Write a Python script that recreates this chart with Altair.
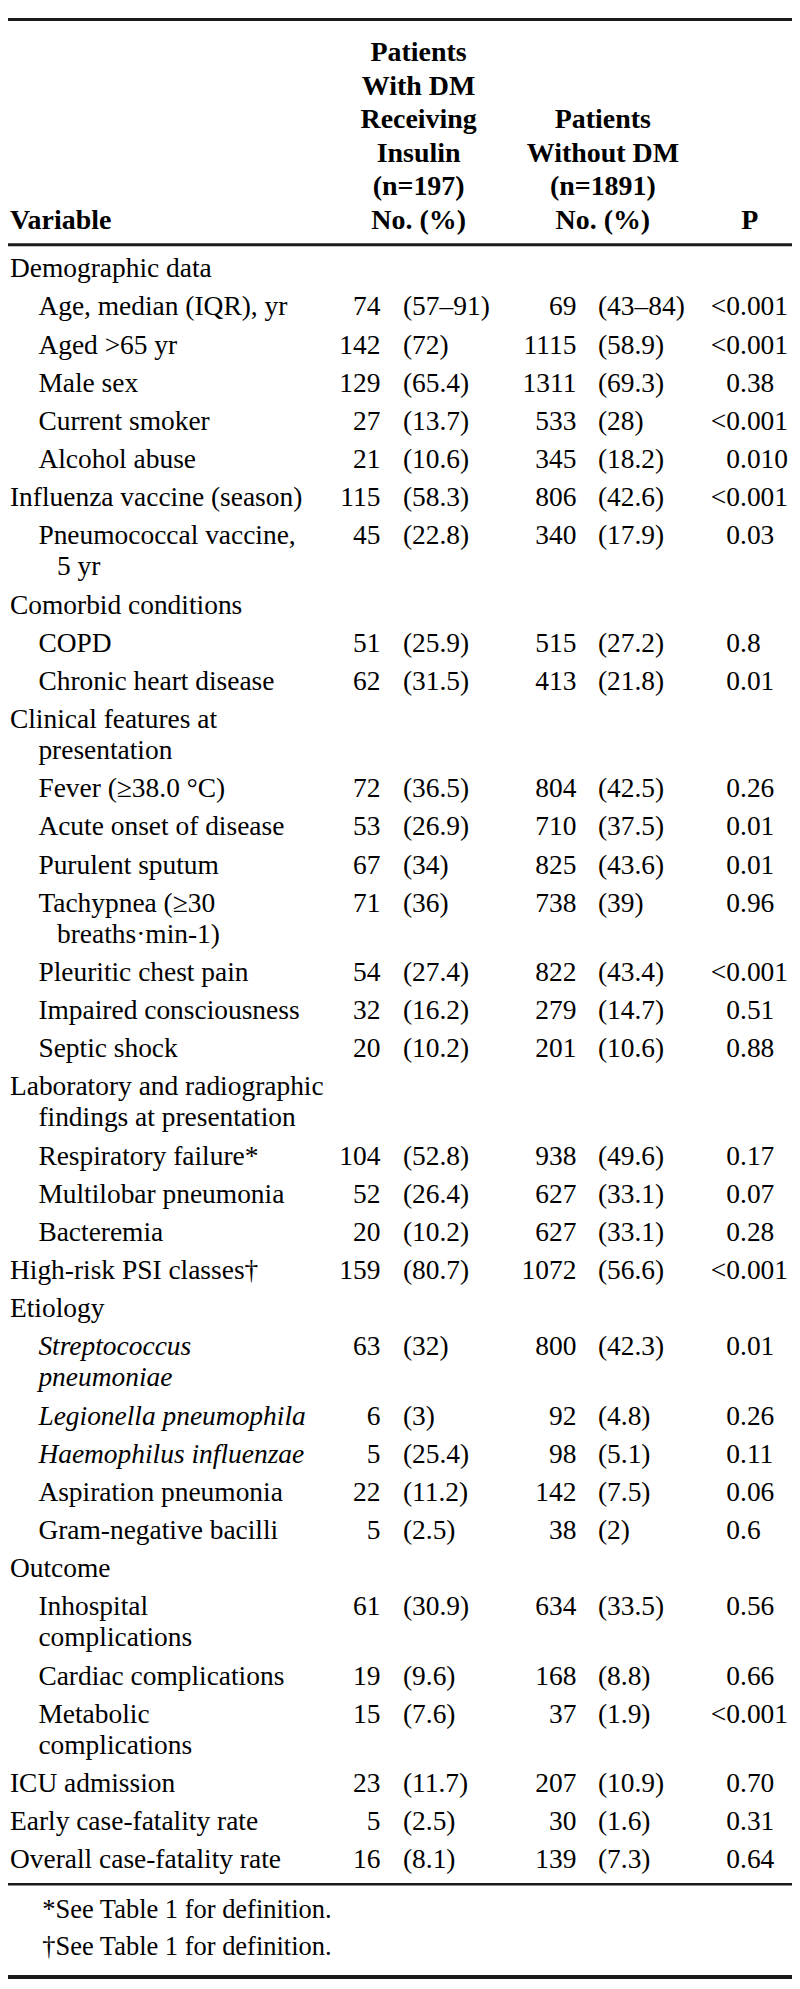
import altair as alt
import pandas as pd

# ---------------- data ----------------
col_headers_1 = ["Patients", "With DM", "Receiving", "Insulin", "(n=197)", "No. (%)"]
col_headers_2 = ["Patients", "Without DM", "(n=1891)", "No. (%)"]
first_header = "Variable"
p_header = "P"

labels = [
    "Demographic data",
    "Age, median (IQR), yr",
    "Aged >65 yr",
    "Male sex",
    "Current smoker",
    "Alcohol abuse",
    "Influenza vaccine (season)",
    "Pneumococcal vaccine,|5 yr",
    "Comorbid conditions",
    "COPD",
    "Chronic heart disease",
    "Clinical features at|presentation",
    "Fever (≥38.0 °C)",
    "Acute onset of disease",
    "Purulent sputum",
    "Tachypnea (≥30|breaths·min-1)",
    "Pleuritic chest pain",
    "Impaired consciousness",
    "Septic shock",
    "Laboratory and radiographic|findings at presentation",
    "Respiratory failure*",
    "Multilobar pneumonia",
    "Bacteremia",
    "High-risk PSI classes†",
    "Etiology",
    "Streptococcus|pneumoniae",
    "Legionella pneumophila",
    "Haemophilus influenzae",
    "Aspiration pneumonia",
    "Gram-negative bacilli",
    "Outcome",
    "Inhospital|complications",
    "Cardiac complications",
    "Metabolic|complications",
    "ICU admission",
    "Early case-fatality rate",
    "Overall case-fatality rate",
]
# indent level of first line, indent level of wrapped line
levels = [0, 1, 1, 1, 1, 1, 0, 1, 0, 1, 1, 0, 1, 1, 1, 1, 1, 1, 1, 0,
          1, 1, 1, 0, 0, 1, 1, 1, 1, 1, 0, 1, 1, 1, 0, 0, 0]
wrap_levels = [0, 0, 0, 0, 0, 0, 0, 2, 0, 0, 0, 1, 0, 0, 0, 2, 0, 0, 0, 1,
               0, 0, 0, 0, 0, 1, 0, 0, 0, 0, 0, 1, 0, 1, 0, 0, 0]
italic = [False] * 25 + [True, True, True] + [False] * 9

n_dm = ["", "74", "142", "129", "27", "21", "115", "45", "", "51", "62", "",
        "72", "53", "67", "71", "54", "32", "20", "", "104", "52", "20", "159",
        "", "63", "6", "5", "22", "5", "", "61", "19", "15", "23", "5", "16"]
pct_dm = ["", "(57–91)", "(72)", "(65.4)", "(13.7)", "(10.6)", "(58.3)", "(22.8)",
          "", "(25.9)", "(31.5)", "", "(36.5)", "(26.9)", "(34)", "(36)", "(27.4)",
          "(16.2)", "(10.2)", "", "(52.8)", "(26.4)", "(10.2)", "(80.7)", "",
          "(32)", "(3)", "(25.4)", "(11.2)", "(2.5)", "", "(30.9)", "(9.6)",
          "(7.6)", "(11.7)", "(2.5)", "(8.1)"]
n_nodm = ["", "69", "1115", "1311", "533", "345", "806", "340", "", "515", "413",
          "", "804", "710", "825", "738", "822", "279", "201", "", "938", "627",
          "627", "1072", "", "800", "92", "98", "142", "38", "", "634", "168",
          "37", "207", "30", "139"]
pct_nodm = ["", "(43–84)", "(58.9)", "(69.3)", "(28)", "(18.2)", "(42.6)",
            "(17.9)", "", "(27.2)", "(21.8)", "", "(42.5)", "(37.5)", "(43.6)",
            "(39)", "(43.4)", "(14.7)", "(10.6)", "", "(49.6)", "(33.1)",
            "(33.1)", "(56.6)", "", "(42.3)", "(4.8)", "(5.1)", "(7.5)", "(2)",
            "", "(33.5)", "(8.8)", "(1.9)", "(10.9)", "(1.6)", "(7.3)"]
p_values = ["", "<0.001", "<0.001", "0.38", "<0.001", "0.010", "<0.001", "0.03",
            "", "0.8", "0.01", "", "0.26", "0.01", "0.01", "0.96", "<0.001",
            "0.51", "0.88", "", "0.17", "0.07", "0.28", "<0.001", "", "0.01",
            "0.26", "0.11", "0.06", "0.6", "", "0.56", "0.66", "<0.001", "0.70",
            "0.31", "0.64"]
footnotes = ["*See Table 1 for definition.", "†See Table 1 for definition."]

# ---------------- layout (reference pixel frame 800 x 1989) ----------------
W_REF, H_REF = 800, 1989
INDENT = {0: 2, 1: 31, 2: 50}
X_N1, X_P1, X_N2, X_P2, X_P = 380, 403, 580, 602, 733
X_H1, X_H2, X_HP = 419, 607, 757
FIRST, ROW, WRAP = 263, 38.7, 31.5
HEAD_BASE, HEAD_STEP = 214, 34
FOOT = [1927, 1965]

items = []
y = FIRST
for i, lab in enumerate(labels):
    parts = lab.split("|")
    kind = "lab_it" if italic[i] else "left"
    for j, part in enumerate(parts):
        xi = INDENT[levels[i]] if j == 0 else INDENT[wrap_levels[i]]
        items.append(dict(x=xi, y=y + j * WRAP, text=part, kind=kind))
    if n_dm[i]:
        items.append(dict(x=X_N1, y=y, text=n_dm[i], kind="right"))
        items.append(dict(x=X_P1, y=y, text=pct_dm[i], kind="left"))
        items.append(dict(x=X_N2, y=y, text=n_nodm[i], kind="right"))
        items.append(dict(x=X_P2, y=y, text=pct_nodm[i], kind="left"))
        pv = p_values[i]
        if pv.startswith("<"):
            items.append(dict(x=X_P, y=y, text="<", kind="right"))
            items.append(dict(x=X_P, y=y, text=pv[1:], kind="left"))
        else:
            items.append(dict(x=X_P, y=y, text=pv, kind="left"))
    y += (len(parts) - 1) * WRAP + ROW

n1h = len(col_headers_1)
for k, t in enumerate(col_headers_1):
    items.append(dict(x=X_H1, y=HEAD_BASE - (n1h - 1 - k) * HEAD_STEP, text=t, kind="head_c"))
n2h = len(col_headers_2)
for k, t in enumerate(col_headers_2):
    items.append(dict(x=X_H2, y=HEAD_BASE - (n2h - 1 - k) * HEAD_STEP, text=t, kind="head_c"))
items.append(dict(x=X_HP, y=HEAD_BASE, text=p_header, kind="head_c"))
items.append(dict(x=2, y=HEAD_BASE, text=first_header, kind="head_l"))
for k, t in enumerate(footnotes):
    items.append(dict(x=35, y=FOOT[k], text=t, kind="foot"))

df = pd.DataFrame(items)
rules = pd.DataFrame(dict(x0=[0, 0, 0, 0], x1=[W_REF] * 4,
                          y=[1.5, 230, 1893, 1987], w=[3, 3, 2.5, 4]))

# ---------------- chart ----------------
PW, PH = 792, 1981
SC = PW / W_REF
FONT = "Liberation Serif"
xs = alt.Scale(domain=[0, W_REF], nice=False, zero=False)
ys = alt.Scale(domain=[0, H_REF], nice=False, zero=False, reverse=True)
X = alt.X("x:Q", scale=xs, axis=None)
Y = alt.Y("y:Q", scale=ys, axis=None)


def layer(kind, align, size, weight="normal", style="normal"):
    return (
        alt.Chart(df)
        .transform_filter(alt.datum.kind == kind)
        .mark_text(align=align, baseline="alphabetic", font=FONT,
                   fontSize=size * SC, fontWeight=weight, fontStyle=style,
                   color="#000000")
        .encode(x=X, y=Y, text="text:N")
    )


rule_layer = (
    alt.Chart(rules)
    .mark_rule(color="#1a1a1a")
    .encode(x=alt.X("x0:Q", scale=xs, axis=None), x2="x1:Q", y=Y,
            size=alt.Size("w:Q", scale=None, legend=None))
)

chart = (
    alt.layer(
        rule_layer,
        layer("left", "left", 28),
        layer("lab_it", "left", 28, style="italic"),
        layer("right", "right", 28),
        layer("head_c", "center", 28.5, weight="bold"),
        layer("head_l", "left", 28.5, weight="bold"),
        layer("foot", "left", 27),
    )
    .properties(width=PW, height=PH, padding=0,
                autosize=alt.AutoSizeParams(type="none"))
    .configure_view(stroke=None)
)

chart.save("out.html", embed_options={"renderer": "svg", "actions": False})
